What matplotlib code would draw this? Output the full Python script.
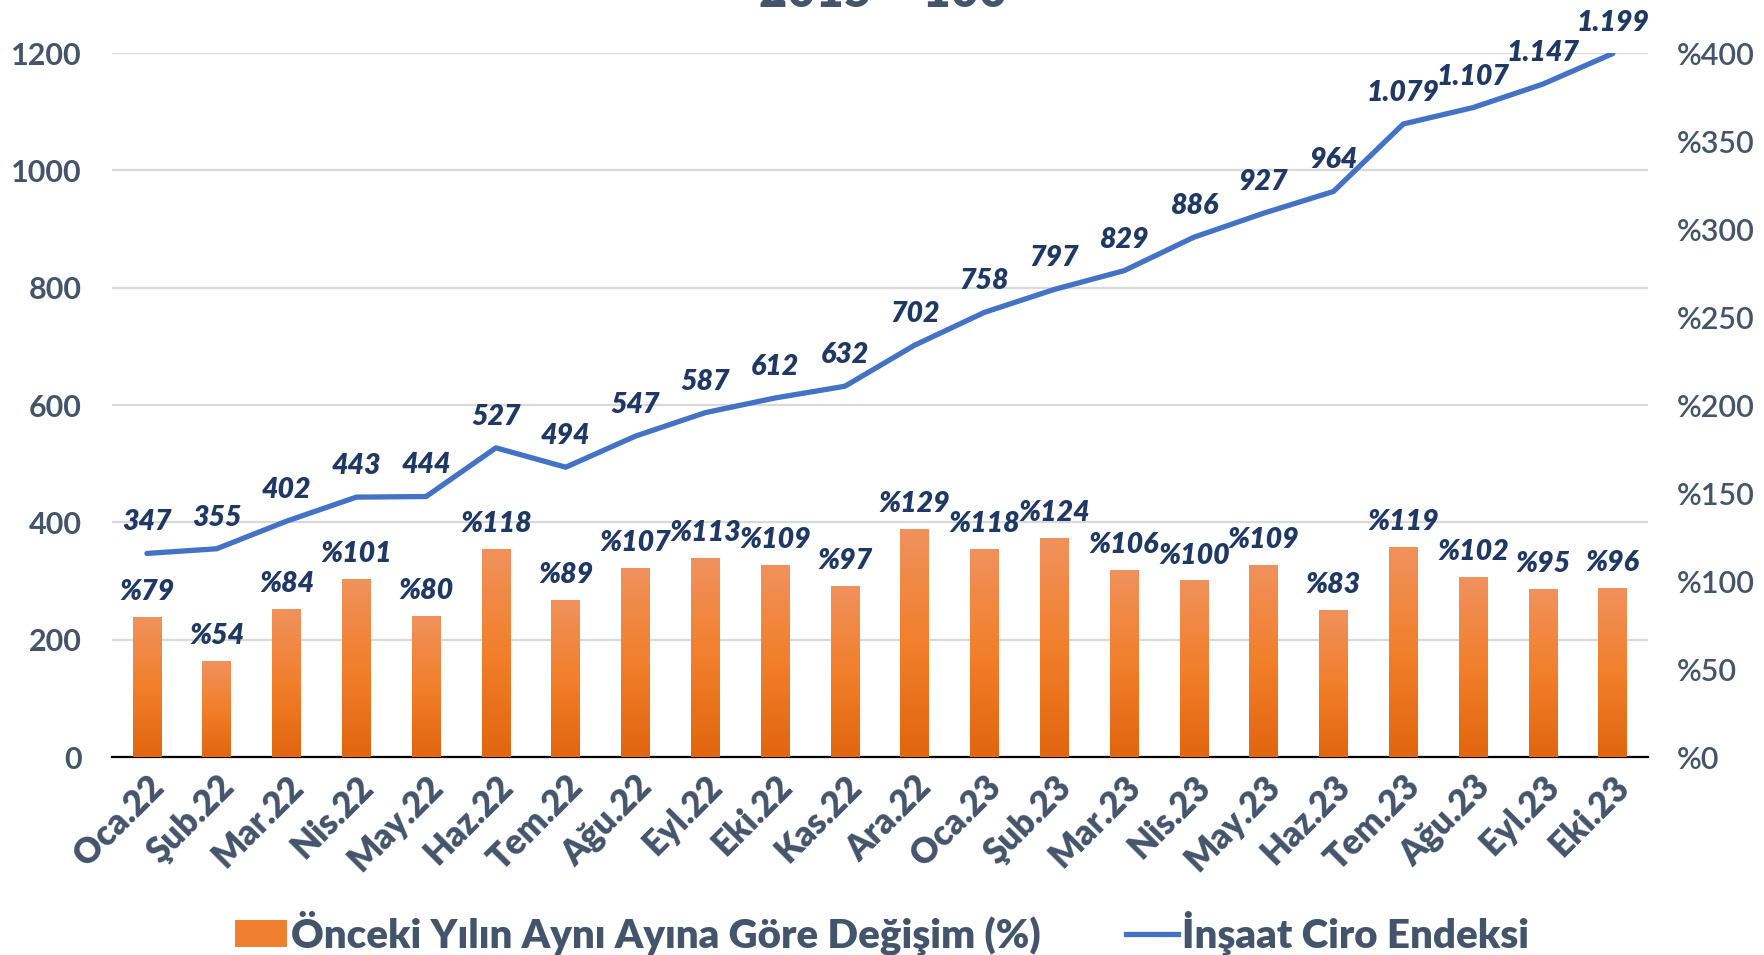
import numpy as np
import matplotlib
matplotlib.use('Agg')
import matplotlib.pyplot as plt
from matplotlib.colors import LinearSegmentedColormap
from matplotlib.patches import Patch
from matplotlib.lines import Line2D

# veriler
aylar = ['Oca.22', 'Şub.22', 'Mar.22', 'Nis.22', 'May.22', 'Haz.22', 'Tem.22', 'Ağu.22',
         'Eyl.22', 'Eki.22', 'Kas.22', 'Ara.22', 'Oca.23', 'Şub.23', 'Mar.23', 'Nis.23',
         'May.23', 'Haz.23', 'Tem.23', 'Ağu.23', 'Eyl.23', 'Eki.23']
degisim = [79, 54, 84, 101, 80, 118, 89, 107, 113, 109, 97, 129, 118, 124, 106, 100,
           109, 83, 119, 102, 95, 96]
endeks = [347, 355, 402, 443, 444, 527, 494, 547, 587, 612, 632, 702, 758, 797, 829, 886,
          927, 964, 1079, 1107, 1147, 1199]

sol_ticks = list(range(0, 1201, 200))
sag_ticks = list(range(0, 401, 50))

bar_label = 'Önceki Yılın Aynı Ayına Göre Değişim (%)'
line_label = 'İnşaat Ciro Endeksi'
baslik = '2015 = 100'

TEXT = '#44546A'
LABEL = '#1F3864'
BLUE = '#4472C4'
ORANGE = '#F07F2F'
FONT = 'Lato'

plt.rcParams['font.family'] = [FONT, 'DejaVu Sans']

fig = plt.figure(figsize=(17.64, 9.55), dpi=100)
ax = fig.add_axes([0.0635, 0.2073, 0.8705, 0.7372])
ax2 = ax.twinx()

x = np.arange(len(aylar))

# cizgi (sol eksen)
ax.plot(x, endeks, color=BLUE, lw=3.8, solid_capstyle='round', zorder=3)
ax.set_ylim(0, 1200)
ax.set_yticks(sol_ticks)
ax.set_yticklabels([str(v) for v in sol_ticks])
ax.grid(axis='y', color='#D9D9D9', lw=1.6)
ax.set_axisbelow(True)

# barlar (sag eksen), gradyan ile
bars = ax2.bar(x, degisim, width=0.41, color=ORANGE, zorder=2)
cmap = LinearSegmentedColormap.from_list('tur', ['#F0915C', '#F27F2B', '#E2650F'])
grad = np.linspace(0, 1, 100).reshape(-1, 1)
for b in bars:
    ax2.imshow(grad, extent=[b.get_x(), b.get_x() + b.get_width(), 0, b.get_height()],
               aspect='auto', cmap=cmap, origin='upper', zorder=2.5, clip_path=b)
ax2.set_ylim(0, 400)
ax2.set_yticks(sag_ticks)
ax2.set_yticklabels(['%' + str(v) for v in sag_ticks])

for a in (ax, ax2):
    a.set_xlim(-0.5, len(aylar) - 0.5)
    for s in a.spines.values():
        s.set_visible(False)
ax.spines['bottom'].set_visible(True)
ax.spines['bottom'].set_color('black')
ax.spines['bottom'].set_linewidth(1.6)
ax.spines['bottom'].set_zorder(5)

ax.set_xticks(x)
ax.set_xticklabels(aylar, rotation=45, ha='right', rotation_mode='anchor')
ax.tick_params(axis='x', length=0, pad=9, labelsize=25, labelcolor=TEXT)
for t in ax.get_xticklabels():
    t.set_fontweight('heavy')
ax.tick_params(axis='y', length=0, pad=22, labelsize=22, labelcolor=TEXT)
for t in ax.get_yticklabels():
    t.set_fontweight('bold')
ax2.tick_params(axis='y', length=0, pad=21, labelsize=22, labelcolor=TEXT)
for t in ax2.get_yticklabels():
    t.set_fontweight('semibold')

# etiketler
for i, v in enumerate(endeks):
    ax.annotate(f'{v:,}'.replace(',', '.'), (i, v), xytext=(0, 13), textcoords='offset points',
                ha='center', va='bottom', fontsize=20.5, fontweight='heavy', fontstyle='italic',
                color=LABEL, zorder=6)
for i, v in enumerate(degisim):
    ax2.annotate('%' + str(v), (i, v), xytext=(0, 9), textcoords='offset points',
                 ha='center', va='bottom', fontsize=20.5, fontweight='heavy', fontstyle='italic',
                 color=LABEL, zorder=6)

fig.text(883 / 1764, 1 - 7 / 955, baslik, ha='center', va='baseline', fontsize=35,
         fontweight='heavy', color=TEXT)

handles = [Patch(facecolor=ORANGE, edgecolor='none'), Line2D([], [], color=BLUE, lw=3.8)]
fig.legend(handles, [bar_label, line_label], loc='center', bbox_to_anchor=(0.5, 0.023),
           ncol=2, frameon=False, prop=dict(family=FONT, weight='heavy', size=29),
           labelcolor=TEXT, handlelength=1.3, handleheight=0.65, handletextpad=0.1,
           columnspacing=2.1)

fig.savefig('out.png', dpi=100)
